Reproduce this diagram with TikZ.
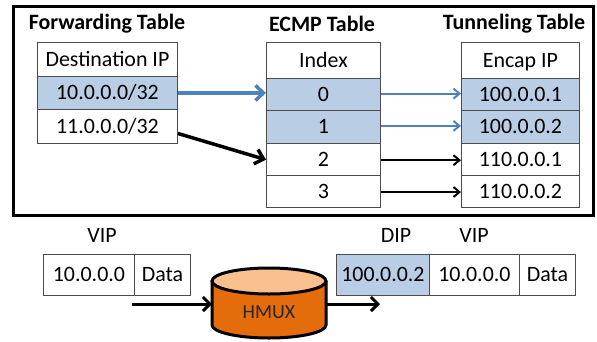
\documentclass[tikz,border=0pt]{standalone}
\usepackage{fontspec}
\setmainfont{Carlito}
\usetikzlibrary{arrows.meta}
\definecolor{cellblue}{HTML}{B9CDE5}
\definecolor{arrblue}{HTML}{4F81BD}
\definecolor{hmuxor}{HTML}{E46C0A}
\definecolor{hmuxtop}{HTML}{FAC090}
\begin{document}
\begin{tikzpicture}[x=1bp,y=-1bp,
  txt/.style={font=\fontsize{22}{24}\selectfont, inner sep=0pt},
  title/.style={font=\fontsize{22}{24}\selectfont\bfseries, inner sep=0pt},
  cell/.style={draw=black!70, line width=0.9bp, anchor=north west, inner sep=0pt,
    font=\fontsize{22}{24}\selectfont, text height=14bp, text depth=0pt},
  hl/.style={fill=cellblue},
  bigblue/.style={draw=arrblue, line width=3.5bp, -{Straight Barb[length=8bp,width=15bp]}},
  bigblack/.style={draw=black, line width=3.5bp, -{Straight Barb[length=8bp,width=15bp]}},
  thinblue/.style={draw=arrblue, line width=2bp, -{Straight Barb[length=6bp,width=10bp]}},
  thinblack/.style={draw=black, line width=2bp, -{Straight Barb[length=6bp,width=10bp]}},
  pktarrow/.style={draw=black, line width=3bp, -{Straight Barb[length=7bp,width=14bp]}},
  frame/.style={draw=black, line width=3bp}
]
\useasboundingbox (0,0) rectangle (597,341);

% outer frame
\draw[frame] (13,6) rectangle (593,215);

% titles
\node[title] (tf) at (107,24) {Forwarding Table};
\node[title] (te) at (322,24) {ECMP Table};
\node[title] (tt) at (514,24) {Tunneling Table};

% forwarding table
\node[cell, minimum width=140bp, minimum height=34bp] (f0) at (37,42) {Destination IP};
\node[cell, hl, minimum width=140bp, minimum height=33bp] (f1) at (37,76) {10.0.0.0/32};
\node[cell, minimum width=140bp, minimum height=34bp] (f2) at (37,109) {11.0.0.0/32};

% ECMP table
\node[cell, minimum width=114bp, minimum height=36bp] (e0h) at (266,42) {Index};
\node[cell, hl, minimum width=114bp, minimum height=32.3bp] (e0) at (266,78) {0};
\node[cell, hl, minimum width=114bp, minimum height=32.3bp] (e1) at (266,110.3) {1};
\node[cell, minimum width=114bp, minimum height=32.3bp] (e2) at (266,142.6) {2};
\node[cell, minimum width=114bp, minimum height=32.3bp] (e3) at (266,174.9) {3};

% tunneling table
\node[cell, minimum width=118bp, minimum height=36bp] (t0h) at (461,42) {Encap IP};
\node[cell, hl, minimum width=118bp, minimum height=32.3bp] (t0) at (461,78) {100.0.0.1};
\node[cell, hl, minimum width=118bp, minimum height=32.3bp] (t1) at (461,110.3) {100.0.0.2};
\node[cell, minimum width=118bp, minimum height=32.3bp] (t2) at (461,142.6) {110.0.0.1};
\node[cell, minimum width=118bp, minimum height=32.3bp] (t3) at (461,174.9) {110.0.0.2};

% arrows in the tables
\draw[bigblue] (f1.east) -- (f1.east -| e0.west);
\draw[bigblack] ([yshift=-7bp]f2.east) -- ([yshift=-0.5bp]e2.west);
\draw[thinblue] ([yshift=1bp]e0.east) -- ([yshift=1bp]t0.west);
\draw[thinblue] ([yshift=1bp]e1.east) -- ([yshift=1bp]t1.west);
\draw[thinblack] ([yshift=-1bp]e2.east) -- ([yshift=-1bp]t2.west);
\draw[thinblack] ([yshift=-0.5bp]e3.east) -- ([yshift=-0.5bp]t3.west);

% bottom packets
\node[txt] (vip1) at (102,235) {VIP};
\node[cell, minimum width=91bp, minimum height=41bp] (p1a) at (43,254) {10.0.0.0};
\node[cell, minimum width=56bp, minimum height=41bp] (p1b) at (134,254) {Data};

\node[txt] (dip) at (396,235) {DIP};
\node[txt] (vip2) at (474,235) {VIP};
\node[cell, hl, minimum width=93bp, minimum height=41bp] (p2a) at (336,254) {100.0.0.2};
\node[cell, minimum width=90bp, minimum height=41bp] (p2b) at (429,254) {10.0.0.0};
\node[cell, minimum width=56bp, minimum height=41bp] (p2c) at (519,254) {Data};

% HMUX cylinder
\fill[hmuxor] (212,281) -- (212,325) arc[start angle=180, end angle=0, x radius=57, y radius=13] -- (326,281) -- cycle;
\draw[line width=3bp] (212,281) -- (212,325) arc[start angle=180, end angle=0, x radius=57, y radius=13] -- (326,281);
\draw[line width=3bp, fill=hmuxtop] (269,281) ellipse[x radius=57, y radius=13];
\node[font=\fontsize{20}{22}\selectfont, text=black!85, inner sep=0pt] (hmux) at (269,312) {HMUX};

\coordinate (inS) at (132,304);
\coordinate (cylL) at (212,304);
\coordinate (cylR) at (326,304);
\coordinate (outE) at (380,304);
\draw[pktarrow] (inS) -- (cylL);
\draw[pktarrow] (cylR) -- (outE);
\end{tikzpicture}
\end{document}
